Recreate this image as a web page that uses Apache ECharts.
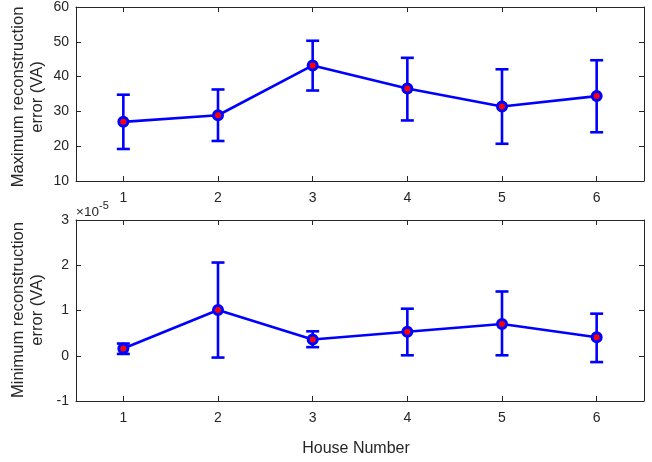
<!DOCTYPE html>
<html>
<head>
<meta charset="utf-8">
<script src="https://cdn.jsdelivr.net/npm/echarts@6/dist/echarts.min.js"></script>
<style>html,body{margin:0;padding:0;background:#fff}#c{width:652px;height:462px}</style>
</head>
<body>
<div id="c"></div>
<script>
// Data
const houses = ['1', '2', '3', '4', '5', '6'];
// Top panel: maximum reconstruction error (VA)
const maxMean = [27.0, 28.9, 43.2, 36.6, 31.4, 34.4];
const maxLow  = [19.2, 21.5, 36.0, 27.4, 20.7, 24.0];
const maxHigh = [34.8, 36.3, 50.3, 45.4, 42.1, 44.7];
// Bottom panel: minimum reconstruction error (VA), in units of 1e-5
const minExponent = -5;
const minMean = [0.16, 1.01, 0.36, 0.53, 0.70, 0.41];
const minLow  = [0.04, -0.04, 0.19, 0.01, 0.01, -0.14];
const minHigh = [0.27, 2.06, 0.54, 1.04, 1.42, 0.93];
// Axis ticks
const maxTicks = { min: 10, max: 60, interval: 10 };
const minTicks = { min: -1, max: 3, interval: 1 };

const TXT = '#262626';
const BLUE = '#0000ff';
const FONT = 'Liberation Sans, Arial, Helvetica, sans-serif';

function errRows(lo, hi) { return lo.map((v, i) => [i, v, hi[i]]); }

function renderErr(params, api) {
  const i = api.value(0);
  const a = api.coord([i, api.value(1)]);
  const b = api.coord([i, api.value(2)]);
  const hw = 6.5;
  const st = { stroke: BLUE, lineWidth: 2.6 };
  return { type: 'group', children: [
    { type: 'line', shape: { x1: a[0], y1: a[1], x2: b[0], y2: b[1] }, style: st },
    { type: 'line', shape: { x1: a[0] - hw, y1: a[1], x2: a[0] + hw, y2: a[1] }, style: st },
    { type: 'line', shape: { x1: b[0] - hw, y1: b[1], x2: b[0] + hw, y2: b[1] }, style: st }
  ]};
}

const axisLine = { show: true, onZero: false, lineStyle: { color: TXT, width: 1 } };
const tick = { show: true, inside: true, length: 5, alignWithLabel: true, lineStyle: { color: TXT } };
const lbl = { color: TXT, fontSize: 14, fontFamily: FONT };

function xAxes(gi) {
  return [
    { type: 'category', gridIndex: gi, data: houses, position: 'bottom', boundaryGap: true,
      axisLine, axisTick: tick, axisLabel: Object.assign({ margin: 10 }, lbl), splitLine: { show: false } },
    { type: 'category', gridIndex: gi, data: houses, position: 'top', boundaryGap: true,
      axisLine, axisTick: tick, axisLabel: { show: false }, splitLine: { show: false } }
  ];
}
function yAxes(gi, t) {
  return [
    { type: 'value', gridIndex: gi, position: 'left', min: t.min, max: t.max, interval: t.interval,
      axisLine, axisTick: tick, axisLabel: Object.assign({ margin: 7 }, lbl), splitLine: { show: false } },
    { type: 'value', gridIndex: gi, position: 'right', min: t.min, max: t.max, interval: t.interval,
      axisLine, axisTick: tick, axisLabel: { show: false }, splitLine: { show: false } }
  ];
}

function lineSeries(xi, yi, data) {
  return { type: 'line', xAxisIndex: xi, yAxisIndex: yi, data, z: 5,
    symbol: 'circle', symbolSize: 9, showSymbol: true,
    lineStyle: { color: BLUE, width: 2.6 },
    itemStyle: { color: '#ff0000', borderColor: BLUE, borderWidth: 3 } };
}

const chart = echarts.init(document.getElementById('c'), null, { renderer: 'canvas' });
chart.setOption({
  animation: false,
  backgroundColor: '#ffffff',
  textStyle: { fontFamily: FONT },
  grid: [
    { left: 76, top: 7, width: 568, height: 174 },
    { left: 76, top: 220, width: 568, height: 181 }
  ],
  xAxis: [...xAxes(0), ...xAxes(1)],
  yAxis: [...yAxes(0, maxTicks), ...yAxes(1, minTicks)],
  series: [
    { type: 'custom', xAxisIndex: 0, yAxisIndex: 0, data: errRows(maxLow, maxHigh), renderItem: renderErr, z: 3 },
    lineSeries(0, 0, maxMean),
    { type: 'custom', xAxisIndex: 2, yAxisIndex: 2, data: errRows(minLow, minHigh), renderItem: renderErr, z: 3 },
    lineSeries(2, 2, minMean)
  ],
  graphic: [
    { type: 'text', x: 28, y: 97, rotation: Math.PI / 2,
      style: { text: 'Maximum reconstruction\nerror (VA)', fill: TXT, font: '16.6px ' + FONT,
        textAlign: 'center', textVerticalAlign: 'middle', lineHeight: 19 } },
    { type: 'text', x: 28, y: 310, rotation: Math.PI / 2,
      style: { text: 'Minimum reconstruction\nerror (VA)', fill: TXT, font: '16.6px ' + FONT,
        textAlign: 'center', textVerticalAlign: 'middle', lineHeight: 19 } },
    { type: 'text', x: 356, y: 449,
      style: { text: 'House Number', fill: TXT, font: '16px ' + FONT, textAlign: 'center', textVerticalAlign: 'middle' } },
    { type: 'text', x: 76, y: 212, style: { text: '×10', fill: TXT, font: '13.5px ' + FONT, textAlign: 'left', textVerticalAlign: 'middle' } },
    { type: 'text', x: 99, y: 206, style: { text: String(minExponent), fill: TXT, font: '11px ' + FONT, textAlign: 'left', textVerticalAlign: 'middle' } }
  ]
});
</script>
</body>
</html>
